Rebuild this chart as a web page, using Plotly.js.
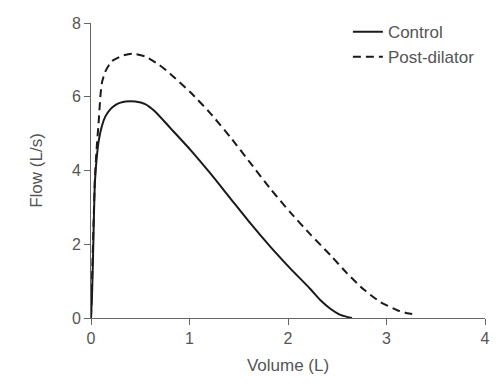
<!DOCTYPE html>
<html>
<head>
<meta charset="utf-8">
<script src="https://cdn.plot.ly/plotly-3.0.1.min.js"></script>
<style>html,body{margin:0;padding:0;background:#fff;}#chart{width:500px;height:384px;}</style>
</head>
<body>
<div id="chart"></div>
<script>
// Control curve (Volume L, Flow L/s)
var controlVolume = [0, 0.01, 0.02, 0.03, 0.04, 0.06, 0.08, 0.11, 0.145, 0.2, 0.25, 0.3, 0.35, 0.45, 0.55, 0.65, 0.806, 1.009, 1.212, 1.416, 1.619, 1.822, 2.025, 2.229, 2.33, 2.43, 2.52, 2.6, 2.65];
var controlFlow   = [0, 0.6, 1.6, 2.8, 3.7, 4.4, 4.83, 5.2, 5.46, 5.67, 5.78, 5.84, 5.87, 5.87, 5.8, 5.6, 5.15, 4.56, 3.92, 3.24, 2.565, 1.93, 1.34, 0.78, 0.48, 0.25, 0.1, 0.03, 0.0];
// Post-dilator curve
var postVolume = [0, 0.01, 0.025, 0.04, 0.06, 0.077, 0.095, 0.11, 0.145, 0.21, 0.315, 0.42, 0.55, 0.69, 0.806, 1.009, 1.212, 1.416, 1.619, 1.822, 2.025, 2.229, 2.432, 2.6, 2.77, 2.94, 3.11, 3.21, 3.3];
var postFlow   = [0, 1.0, 2.5, 3.8, 4.7, 5.28, 6.0, 6.37, 6.68, 6.96, 7.11, 7.17, 7.09, 6.87, 6.62, 6.12, 5.55, 4.9, 4.2, 3.5, 2.86, 2.26, 1.7, 1.21, 0.77, 0.43, 0.21, 0.13, 0.09];

var xTicks = [0, 1, 2, 3, 4];
var yTicks = [0, 2, 4, 6, 8];

var axisColor = '#666';
var textColor = '#555';
var fontFam = 'Liberation Sans, Arial, sans-serif';

var traces = [
  {x: controlVolume, y: controlFlow, name: 'Control', mode: 'lines', type: 'scatter',
   line: {color: '#1a1a1a', width: 2, shape: 'spline', smoothing: 0.6}},
  {x: postVolume, y: postFlow, name: 'Post-dilator', mode: 'lines', type: 'scatter',
   line: {color: '#1a1a1a', width: 2, dash: '8px,5px', shape: 'spline', smoothing: 0.6}}
];

var layout = {
  width: 500, height: 384,
  margin: {l: 91, r: 15, t: 23, b: 66},
  paper_bgcolor: '#fff', plot_bgcolor: '#fff',
  font: {family: fontFam, color: textColor, size: 16},
  showlegend: true,
  legend: {x: 0.652, y: 1.03, xanchor: 'left', yanchor: 'top', bgcolor: 'rgba(0,0,0,0)',
           font: {size: 17, color: textColor, family: fontFam}, tracegroupgap: 0},
  xaxis: {range: [0, 4], tickvals: xTicks, ticktext: xTicks.map(String), showgrid: false, zeroline: false,
          showline: true, linecolor: axisColor, linewidth: 1, ticks: 'outside', ticklen: 6, tickcolor: axisColor,
          tickfont: {size: 16, color: textColor}, fixedrange: true,
          title: {text: 'Volume (L)', font: {size: 17, color: textColor}, standoff: 12}},
  yaxis: {range: [0, 8], tickvals: yTicks, ticktext: yTicks.map(String), showgrid: false, zeroline: false,
          showline: true, linecolor: axisColor, linewidth: 1, ticks: 'outside', ticklen: 6, tickcolor: axisColor,
          tickfont: {size: 16, color: textColor}, fixedrange: true,
          title: {text: 'Flow (L/s)', font: {size: 17, color: textColor}, standoff: 24}}
};

Plotly.newPlot('chart', traces, layout, {displayModeBar: false, staticPlot: true});
</script>
</body>
</html>
